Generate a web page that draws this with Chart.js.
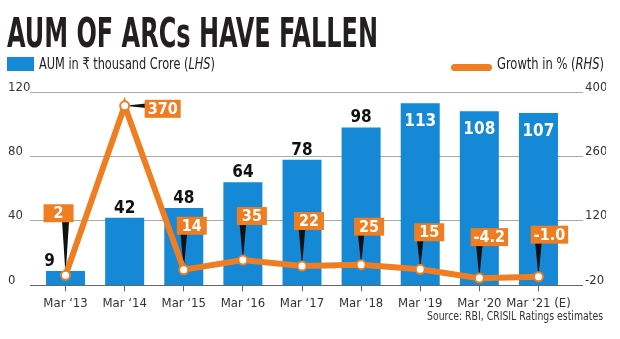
<!DOCTYPE html>
<html>
<head>
<meta charset="utf-8">
<script src="https://cdn.jsdelivr.net/npm/chart.js@4/dist/chart.umd.min.js"></script>
<style>
    body { margin: 0; background: #fff; }
    #wrap { position: relative; width: 620px; height: 339px; overflow: hidden; }
    #wrap canvas { position: absolute; left: 0; top: 0; }
    .txt {
        position: absolute; white-space: nowrap; color: #222; line-height: 1;
        font-family: "Liberation Sans Narrow", "DejaVu Sans Condensed", "Roboto Condensed", "Liberation Sans", sans-serif;
        transform-origin: 0 0;
    }
    #title { left: 7px; top: 13px; font-size: 41px; font-weight: bold; color: #231f20; }
    #leg1 { left: 39px; top: 56px; font-size: 16px; }
    #leg2 { left: 497px; top: 56px; font-size: 16px; }
    #source { left: 427px; top: 309px; font-size: 13px; color: #333; }
    #sw1 { position: absolute; left: 7px; top: 57px; width: 27px; height: 14px; background: #1589d6; }
    #sw2 { position: absolute; left: 451px; top: 64px; width: 41px; height: 7px; border-radius: 4px; background: #ef7d22; }
</style>
</head>
<body>
<div id="wrap">
    <canvas id="chart-aum" width="620" height="339"></canvas>
    <div id="title" class="txt" data-w="371">AUM OF ARCs HAVE FALLEN</div>
    <div id="sw1"></div>
    <div id="leg1" class="txt" data-w="176">AUM in ₹ thousand Crore (<i>LHS</i>)</div>
    <div id="sw2"></div>
    <div id="leg2" class="txt" data-w="107">Growth in % (<i>RHS</i>)</div>
    <div id="source" class="txt" data-w="176">Source: RBI, CRISIL Ratings estimates</div>
</div>
<script>
//----------------------------------------------------------- DATA -----------------------------------------------------------
const years = ["Mar \u201813", "Mar \u201814", "Mar \u201815", "Mar \u201816", "Mar \u201817", "Mar \u201818", "Mar \u201819", "Mar \u201820", "Mar \u201821 (E)"];
const aum = [9, 42, 48, 64, 78, 98, 113, 108, 107];
const growth = [2, 370, 14, 35, 22, 25, 15, -4.2, -1.0];
const growthText = ["2", "370", "14", "35", "22", "25", "15", "-4.2", "-1.0"];
const lhsTicks = [0, 40, 80, 120];
const rhsTicks = [-20, 120, 260, 400];

const BLUE = '#1589d6';
const ORANGE = '#ef7d22';
const FONT = '"Liberation Sans Narrow", "DejaVu Sans Condensed", "Roboto Condensed", "Liberation Sans", sans-serif';

// squeeze the html texts to the widths of the reference
document.querySelectorAll('.txt').forEach(function (el) {
    var w = el.getBoundingClientRect().width;
    var target = parseFloat(el.dataset.w);
    el.style.transform = 'scaleX(' + (target / w) + ')';
});

//------------------------------------------------------- LABEL PLUGIN -------------------------------------------------------
// where each orange box sits, relative to its point (box centre)
const boxOffsets = [[-7, -62], [38, 3], [8, -44], [9, -44], [7, -45], [8, -38], [9, -37], [10, -41], [11, -42]];

const labelPlugin = {
    id: 'labels',
    beforeDatasetDraw(chart, args) {
        if (args.meta.type !== 'line') return;
        // black pointers from boxes down to the points
        const ctx = chart.ctx;
        ctx.save();
        ctx.fillStyle = '#111';
        args.meta.data.forEach(function (pt, i) {
            const bx = pt.x + boxOffsets[i][0];
            const by = pt.y + boxOffsets[i][1];
            ctx.beginPath();
            if (Math.abs(boxOffsets[i][1]) > Math.abs(boxOffsets[i][0])) {
                ctx.moveTo(pt.x - 4, by);
                ctx.lineTo(pt.x + 4, by);
            } else {
                ctx.moveTo(bx, pt.y - 4);
                ctx.lineTo(bx, pt.y + 4);
            }
            ctx.lineTo(pt.x, pt.y);
            ctx.closePath();
            ctx.fill();
        });
        ctx.restore();
    },
    afterDatasetsDraw(chart) {
        const ctx = chart.ctx;
        ctx.save();
        // bar values
        const bars = chart.getDatasetMeta(0).data;
        ctx.font = 'bold 17px ' + FONT;
        ctx.textAlign = 'center';
        bars.forEach(function (bar, i) {
            if (aum[i] > 100) {
                ctx.fillStyle = '#fff';
                ctx.textBaseline = 'top';
                ctx.fillText(aum[i], bar.x, bar.y + 10);
            } else {
                ctx.fillStyle = '#111';
                ctx.textBaseline = 'alphabetic';
                ctx.fillText(aum[i], bar.x + (i === 0 ? -16 : 0), bar.y - 5);
            }
        });
        // orange growth boxes
        const pts = chart.getDatasetMeta(1).data;
        ctx.font = 'bold 16px ' + FONT;
        ctx.textBaseline = 'middle';
        pts.forEach(function (pt, i) {
            const cx = pt.x + boxOffsets[i][0];
            const cy = pt.y + boxOffsets[i][1];
            const w = Math.max(30, ctx.measureText(growthText[i]).width + 6);
            ctx.fillStyle = ORANGE;
            ctx.fillRect(cx - w / 2, cy - 9, w, 18);
            ctx.fillStyle = '#fff';
            ctx.fillText(growthText[i], cx, cy + 1);
        });
        ctx.restore();
    }
};

function lineColor(c) {
    return c.tick && c.tick.value === (c.scale.id === 'y' ? 0 : -20) ? '#666' : '#aaa';
}

//----------------------------------------------------------- CHART -----------------------------------------------------------
var ctx_aum = document.getElementById('chart-aum').getContext('2d');
var chart_aum = new Chart(ctx_aum, {
    type: 'bar',
    data: {
        labels: years,
        datasets: [{
            label: 'AUM',
            data: aum,
            yAxisID: 'y',
            backgroundColor: BLUE,
            barPercentage: 0.66,
            categoryPercentage: 1,
            order: 2
        }, {
            type: 'line',
            label: 'Growth',
            data: growth,
            yAxisID: 'y1',
            borderColor: ORANGE,
            borderWidth: 6,
            pointRadius: 4.5,
            pointBorderWidth: 2,
            pointBackgroundColor: '#fff',
            pointBorderColor: ORANGE,
            tension: 0,
            order: 1
        }]
    },
    options: {
        responsive: false,
        animation: false,
        events: [],
        layout: { padding: { left: 8, right: 14, top: 92, bottom: 24 } },
        plugins: { legend: { display: false }, tooltip: { enabled: false } },
        scales: {
            x: {
                grid: { drawOnChartArea: false, offset: false, tickLength: 6, color: '#666' },
                border: { display: false },
                ticks: { color: '#333', padding: 4, maxRotation: 0, autoSkip: false, font: { family: FONT, size: 13 } }
            },
            y: {
                position: 'left',
                min: 0, max: 120,
                afterBuildTicks: function (s) { s.ticks = lhsTicks.map(function (v) { return { value: v }; }); },
                afterFit: function (s) { s.width = 28; },
                grid: { color: lineColor, tickLength: 6 },
                border: { display: false },
                ticks: {
                    crossAlign: 'far', padding: 0, color: '#333',
                    font: { family: FONT, size: 13, lineHeight: 0.75 },
                    callback: function (v) { return [String(v), '']; }
                }
            },
            y1: {
                position: 'right',
                min: -20, max: 400,
                afterBuildTicks: function (s) { s.ticks = rhsTicks.map(function (v) { return { value: v }; }); },
                afterFit: function (s) { s.width = 38; },
                grid: { drawOnChartArea: false, color: lineColor, tickLength: 15 },
                border: { display: false },
                ticks: {
                    padding: 2, color: '#333',
                    font: { family: FONT, size: 13, lineHeight: 0.75 },
                    callback: function (v) { return [String(v), '']; }
                }
            }
        }
    },
    plugins: [labelPlugin]
});
</script>
</body>
</html>
